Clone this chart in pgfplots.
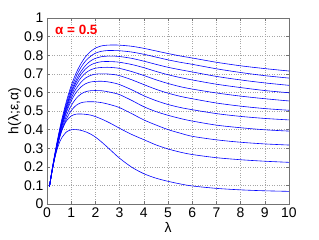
\documentclass[border=0pt]{standalone}
\usepackage{fontspec}
\setmainfont{Liberation Sans}
\usepackage{pgfplots}
\usepackage{pgfplotstable}
\pgfplotsset{compat=1.18}
\pgfplotstableread{
x    c1    c2    c3    c4    c5    c6    c7    c8    c9    c10   c11
0.1  0.093 0.093 0.093 0.093 0.093 0.093 0.093 0.093 0.093 0.093 0.093
0.2  0.176 0.174 0.172 0.172 0.172 0.170 0.170 0.168 0.169 0.177 0.171
0.3  0.253 0.249 0.246 0.245 0.243 0.241 0.240 0.236 0.236 0.247 0.235
0.4  0.324 0.318 0.313 0.311 0.309 0.305 0.303 0.297 0.295 0.306 0.286
0.5  0.388 0.381 0.374 0.372 0.368 0.363 0.359 0.350 0.345 0.354 0.325
0.6  0.448 0.439 0.430 0.427 0.422 0.414 0.409 0.397 0.389 0.393 0.354
0.8  0.551 0.539 0.527 0.521 0.513 0.502 0.492 0.474 0.457 0.446 0.387
1.0  0.636 0.620 0.605 0.596 0.584 0.569 0.554 0.529 0.502 0.473 0.399
1.2  0.703 0.684 0.666 0.653 0.638 0.619 0.599 0.567 0.530 0.483 0.400
1.4  0.754 0.734 0.712 0.696 0.678 0.654 0.629 0.591 0.544 0.484 0.396
1.6  0.793 0.770 0.746 0.727 0.705 0.678 0.647 0.604 0.549 0.482 0.388
1.8  0.820 0.794 0.769 0.747 0.721 0.691 0.656 0.609 0.550 0.478 0.376
2.0  0.838 0.811 0.783 0.758 0.730 0.698 0.659 0.610 0.549 0.470 0.360
2.25 0.850 0.821 0.792 0.765 0.734 0.700 0.660 0.609 0.545 0.457 0.334
2.5  0.854 0.825 0.795 0.766 0.735 0.699 0.657 0.604 0.538 0.442 0.305
2.75 0.855 0.825 0.795 0.765 0.733 0.696 0.651 0.597 0.529 0.425 0.275
3.0  0.854 0.824 0.793 0.762 0.729 0.690 0.642 0.588 0.518 0.407 0.246
3.5  0.848 0.817 0.783 0.750 0.712 0.668 0.614 0.557 0.486 0.374 0.198
4.0  0.837 0.805 0.768 0.733 0.691 0.642 0.582 0.523 0.452 0.346 0.163
4.5  0.823 0.790 0.751 0.713 0.668 0.617 0.556 0.497 0.425 0.318 0.139
5.0  0.809 0.775 0.735 0.695 0.648 0.596 0.535 0.477 0.400 0.296 0.122
5.5  0.796 0.762 0.722 0.680 0.631 0.579 0.519 0.460 0.381 0.279 0.108
6.0  0.785 0.751 0.710 0.667 0.618 0.566 0.507 0.446 0.364 0.266 0.097
7.0  0.762 0.727 0.686 0.644 0.597 0.543 0.486 0.424 0.345 0.249 0.084
8.0  0.743 0.707 0.667 0.626 0.580 0.526 0.471 0.410 0.332 0.238 0.076
9.0  0.728 0.690 0.651 0.610 0.566 0.513 0.460 0.399 0.323 0.230 0.071
10.0 0.715 0.677 0.638 0.598 0.554 0.504 0.452 0.392 0.317 0.224 0.068
}\hdata
\tikzset{hcurve/.style={color=blue, solid, line width=0.6pt, smooth, mark=none}}
\begin{document}
\begin{tikzpicture}
\begin{axis}[
  scale only axis, width=242bp, height=186bp,
  xmin=0, xmax=10, ymin=0, ymax=1,
  xtick={0,1,2,3,4,5,6,7,8,9,10},
  ytick={0,0.1,0.2,0.3,0.4,0.5,0.6,0.7,0.8,0.9,1},
  grid=major,
  major grid style={dotted, gray!70, line width=0.5pt},
  tick align=inside, xtick pos=both, ytick pos=both,
  major tick length=3bp,
  axis line style={black!55, line width=0.7pt},
  tick style={black!55, line width=0.5pt},
  /pgf/number format/assume math mode=true,
  tick label style={font=\fontsize{14}{16}\selectfont},
  label style={font=\fontsize{14}{16}\selectfont},
  xlabel={λ}, ylabel={h(λ;ε,α)},
  xlabel style={yshift=2bp},
  ylabel style={yshift=-4bp},
]
\addplot[hcurve] table[x=x,y=c1]{\hdata};
\addplot[hcurve] table[x=x,y=c2]{\hdata};
\addplot[hcurve] table[x=x,y=c3]{\hdata};
\addplot[hcurve] table[x=x,y=c4]{\hdata};
\addplot[hcurve] table[x=x,y=c5]{\hdata};
\addplot[hcurve] table[x=x,y=c6]{\hdata};
\addplot[hcurve] table[x=x,y=c7]{\hdata};
\addplot[hcurve] table[x=x,y=c8]{\hdata};
\addplot[hcurve] table[x=x,y=c9]{\hdata};
\addplot[hcurve] table[x=x,y=c10]{\hdata};
\addplot[hcurve] table[x=x,y=c11]{\hdata};
\node[anchor=west, text=red, font=\bfseries\fontsize{13.5}{15}\selectfont, inner sep=0pt] at (axis cs:0.33,0.935) {α = 0.5};
\coordinate (bl) at (rel axis cs:0,0);
\coordinate (tr) at (rel axis cs:1,1);
\end{axis}
\path ([shift={(-47bp,-36bp)}]bl) rectangle ([shift={(30bp,18bp)}]tr);
\end{tikzpicture}
\end{document}
